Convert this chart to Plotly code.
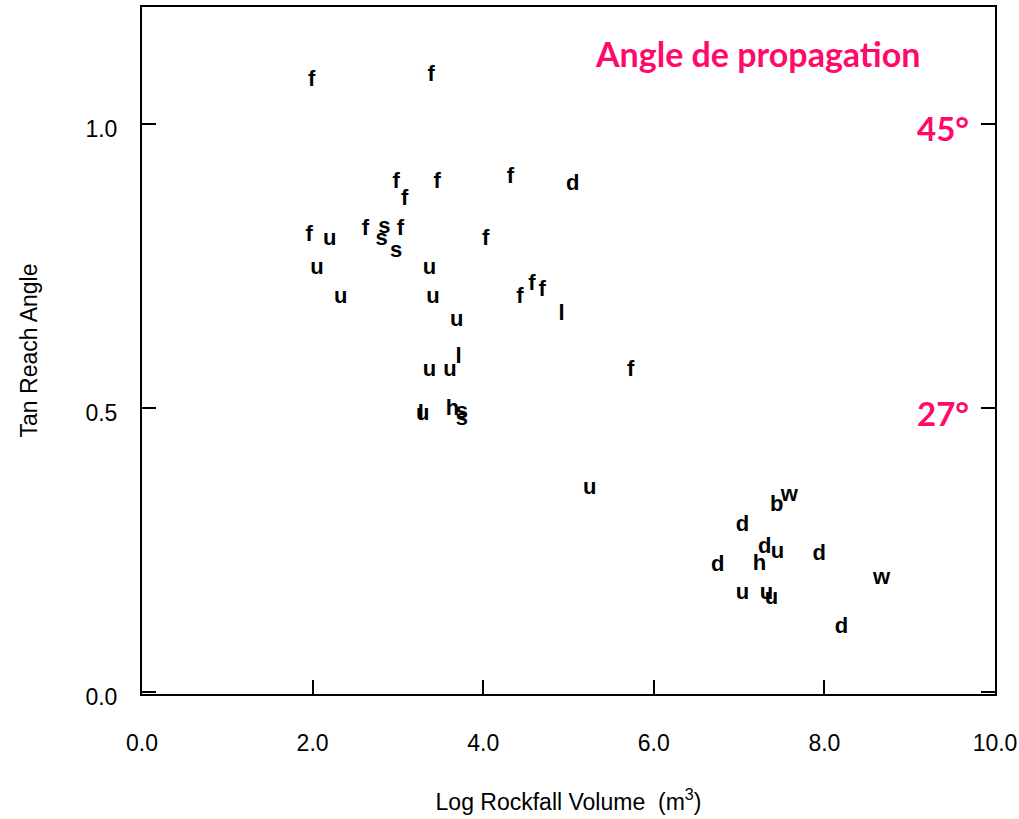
import plotly.graph_objects as go

# Rockfall data: letter code (type of event), log volume (m3), tan of reach angle
labels = ["f", "f", "f", "f", "f", "f", "d", "f", "u", "f",
          "s", "s", "f", "s", "f", "u", "u", "u", "u", "u",
          "f", "f", "f", "l", "u", "u", "l", "f", "l", "u",
          "h", "s", "s", "u", "b", "w", "d", "d", "u", "h",
          "d", "d", "w", "u", "u", "u", "d"]
log_volume = [1.99, 3.39, 2.98, 3.08, 3.46, 4.32, 5.05, 1.96, 2.20, 2.62,
              2.84, 2.81, 3.03, 2.98, 4.03, 2.05, 3.37, 2.33, 3.41, 3.69,
              4.43, 4.57, 4.69, 4.92, 3.37, 3.61, 3.71, 5.73, 3.27, 3.29,
              3.64, 3.75, 3.75, 5.25, 7.44, 7.59, 7.04, 7.30, 7.45, 7.24,
              6.75, 7.94, 8.67, 7.04, 7.32, 7.38, 8.20]
tan_reach = [1.077, 1.086, 0.897, 0.867, 0.897, 0.906, 0.894, 0.804, 0.797, 0.815,
             0.818, 0.797, 0.815, 0.776, 0.797, 0.746, 0.746, 0.695, 0.695, 0.654,
             0.695, 0.718, 0.707, 0.665, 0.566, 0.566, 0.589, 0.566, 0.489, 0.489,
             0.498, 0.492, 0.480, 0.359, 0.329, 0.346, 0.294, 0.255, 0.246, 0.225,
             0.223, 0.242, 0.200, 0.174, 0.174, 0.165, 0.114]

x_ticks = [0, 2, 4, 6, 8, 10]
x_tick_text = ["0.0", "2.0", "4.0", "6.0", "8.0", "10.0"]
y_ticks = [0, 0.5, 1.0]
y_tick_text = ["0.0", "0.5", "1.0"]

PINK = "#ff0a6a"
SANS = "Liberation Sans, Arial, sans-serif"

fig = go.Figure()
fig.add_trace(go.Scatter(
    x=log_volume, y=tan_reach, mode="text", text=labels,
    textposition="middle center",
    textfont=dict(family=SANS, size=22, color="black", weight="bold"),
    hoverinfo="x+y+text", showlegend=False,
))

axis_font = dict(family=SANS, size=23, color="black")
title_font = dict(family=SANS, size=23, color="black")

fig.update_xaxes(
    range=[0, 10], tickvals=x_ticks, ticktext=x_tick_text,
    ticks="inside", ticklen=14, tickwidth=1.5, tickcolor="black",
    showline=True, linewidth=2, linecolor="black", mirror=True,
    showgrid=False, zeroline=False, tickfont=axis_font,
    ticklabelstandoff=27,
    title=dict(text="Log Rockfall Volume  (m<sup>3</sup>)", font=title_font, standoff=39),
)
fig.update_yaxes(
    range=[-0.003, 1.206], tickvals=y_ticks, ticktext=y_tick_text,
    ticks="inside", ticklen=14, tickwidth=1.5, tickcolor="black",
    showline=True, linewidth=2, linecolor="black", mirror="ticks",
    showgrid=False, zeroline=False, tickfont=axis_font,
    ticklabelstandoff=18, ticklabelshift=5,
    title=dict(text="Tan Reach Angle", font=title_font, standoff=41),
)

fig.add_annotation(text="<b>Angle de propagation</b>", xref="paper", yref="paper",
                   x=0.721, y=0.932, xanchor="center", yanchor="middle", showarrow=False,
                   font=dict(family="Lato, Open Sans, sans-serif", size=34, color=PINK))
fig.add_annotation(text="<b>45°</b>", xref="paper", yref="paper",
                   x=0.939, y=0.824, xanchor="center", yanchor="middle", showarrow=False,
                   font=dict(family="Lato, Open Sans, sans-serif", size=33, color=PINK))
fig.add_annotation(text="<b>27°</b>", xref="paper", yref="paper",
                   x=0.939, y=0.409, xanchor="center", yanchor="middle", showarrow=False,
                   font=dict(family="Lato, Open Sans, sans-serif", size=33, color=PINK))

fig.update_layout(
    width=1019, height=819,
    margin=dict(l=142, r=24, t=7, b=125, autoexpand=False),
    paper_bgcolor="white", plot_bgcolor="white",
)

fig.write_html(
    "out.html",
    config={"displayModeBar": False},
    post_script="document.body.style.margin='0px';document.body.style.overflow='hidden';",
)
